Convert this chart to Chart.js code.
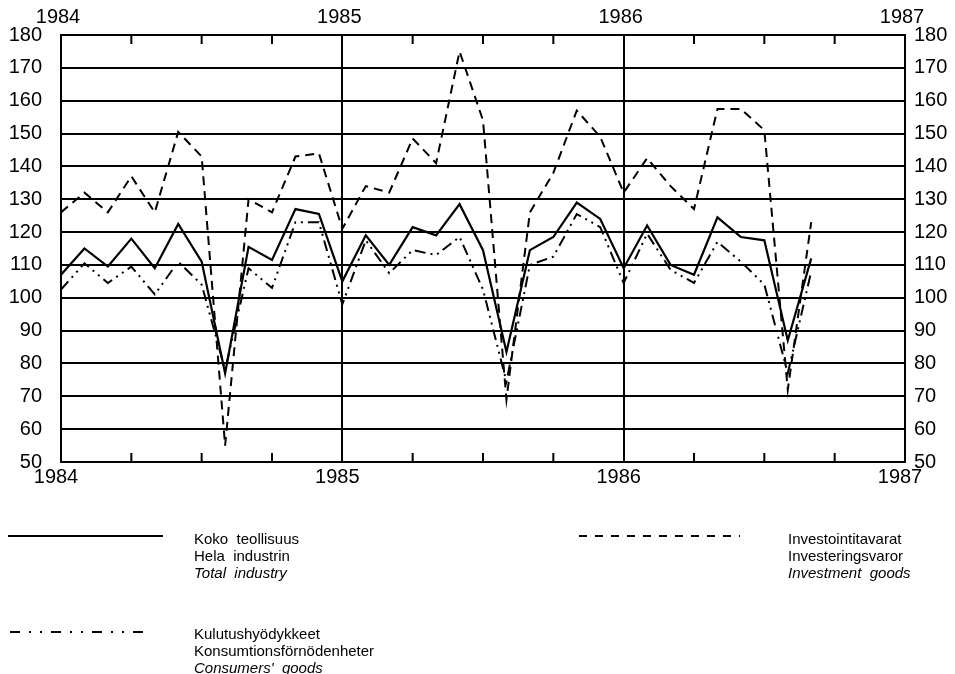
<!DOCTYPE html>
<html>
<head>
<meta charset="utf-8">
<script src="https://cdn.jsdelivr.net/npm/chart.js@4.4.1/dist/chart.umd.min.js"></script>
<style>
  html, body { margin: 0; padding: 0; background: #fff; }
  #wrap { position: relative; width: 955px; height: 674px; overflow: hidden; }
  #c { position: absolute; left: 0; top: 0; }
  .leg { position: absolute; font-family: "Liberation Sans", Arial, sans-serif; font-size: 15px; line-height: 17px; color: #000; }
  .leg i { font-style: italic; }
  svg.sample { position: absolute; }
</style>
</head>
<body>
<div id="wrap">
  <canvas id="c" width="955" height="674"></canvas>
  <svg class="sample" style="left:0;top:530px" width="170" height="12"><line x1="8" y1="6" x2="163" y2="6" stroke="#000" stroke-width="2"/></svg>
  <div class="leg" style="left:194px;top:530px">Koko&nbsp; teollisuus<br>Hela&nbsp; industrin<br><i>Total&nbsp; industry</i></div>
  <svg class="sample" style="left:570px;top:530px" width="180" height="12"><line x1="9" y1="6" x2="170" y2="6" stroke="#000" stroke-width="2" stroke-dasharray="8,8"/></svg>
  <div class="leg" style="left:788px;top:530px">Investointitavarat<br>Investeringsvaror<br><i>Investment&nbsp; goods</i></div>
  <svg class="sample" style="left:0;top:626px" width="170" height="12"><line x1="10" y1="6" x2="150" y2="6" stroke="#000" stroke-width="2" stroke-dasharray="10,9,2,9,2,9"/></svg>
  <div class="leg" style="left:194px;top:625px">Kulutushyödykkeet<br>Konsumtionsförnödenheter<br><i>Consumers'&nbsp; goods</i></div>
</div>
<script>
// Monthly index values, Jan 1984 .. Sep 1986
const yearLabels = ['1984', '1985', '1986', '1987'];
const totalIndustry = [107, 115, 109.5, 118, 109, 122.5, 111, 77, 115.5, 111.5, 127, 125.5,
                       105, 119, 110, 121.5, 119, 128.5, 114.5, 83.5, 114.5, 118.5, 129, 124,
                       109, 122, 110, 107, 124.5, 118.5, 117.5, 87, 112];
const investmentGoods = [126, 132, 126, 137, 126, 150.5, 143, 55, 130, 126, 143, 144,
                         121, 134, 132, 148.5, 141, 175, 154, 69, 126, 138, 157, 149,
                         132, 142.5, 134, 127, 157.5, 157.5, 151, 72, 123];
const consumersGoods = [102.5, 110.5, 104.5, 109.5, 101, 111, 104, 78, 109, 103, 123, 123,
                        98, 117.5, 107.5, 114.5, 113, 118.5, 102.5, 74.5, 110, 112.5, 125.5, 121.5,
                        104.5, 119.5, 108.5, 104.5, 117, 111, 104, 77, 108];

const toPts = arr => arr.map((v, i) => ({ x: i, y: v }));
const FONT = { family: '"Liberation Sans", Arial, sans-serif', size: 20 };

const quarterTicks = {
  id: 'quarterTicks',
  afterDraw(chart) {
    const { ctx, chartArea: a } = chart;
    const xs = chart.scales.x;
    ctx.save();
    ctx.strokeStyle = '#000';
    ctx.lineWidth = 2;
    for (let m = 3; m < 36; m += 3) {
      if (m % 12 === 0) continue;
      const px = xs.getPixelForValue(m);
      ctx.beginPath();
      ctx.moveTo(px, a.top); ctx.lineTo(px, a.top + 9);
      ctx.moveTo(px, a.bottom); ctx.lineTo(px, a.bottom - 9);
      ctx.stroke();
    }
    ctx.restore();
  }
};

const lineBase = { borderColor: '#000', borderWidth: 2, pointRadius: 0, tension: 0, fill: false };

new Chart(document.getElementById('c'), {
  type: 'line',
  data: {
    datasets: [
      Object.assign({ label: 'Total industry', data: toPts(totalIndustry) }, lineBase, { borderWidth: 2.2 }),
      Object.assign({ label: 'Investment goods', data: toPts(investmentGoods), borderDash: [9, 6] }, lineBase),
      Object.assign({ label: "Consumers' goods", data: toPts(consumersGoods), borderDash: [11, 5, 2, 5, 2, 5] }, lineBase)
    ]
  },
  options: {
    responsive: false,
    animation: false,
    devicePixelRatio: 1,
    layout: { padding: { left: 0, right: 0, top: 0, bottom: 182 } },
    plugins: { legend: { display: false }, tooltip: { enabled: false } },
    scales: {
      x: {
        type: 'linear', position: 'bottom', min: 0, max: 36,
        afterFit: s => { s.height = 30; },
        ticks: { stepSize: 12, color: '#000', font: FONT, padding: 3, maxRotation: 0, labelOffset: -5,
                 callback: v => yearLabels[v / 12] },
        grid: { color: '#000', lineWidth: 2, drawTicks: false },
        border: { color: '#000', width: 2 }
      },
      xTop: {
        type: 'linear', position: 'top', min: 0, max: 36,
        afterFit: s => { s.height = 35; },
        ticks: { stepSize: 12, color: '#000', font: FONT, padding: 6, maxRotation: 0, labelOffset: -3,
                 callback: v => yearLabels[v / 12] },
        grid: { display: false, drawTicks: false },
        border: { color: '#000', width: 2 }
      },
      y: {
        position: 'left', min: 50, max: 180,
        afterFit: s => { s.width = 61; },
        ticks: { stepSize: 10, color: '#000', font: FONT, padding: 19 },
        grid: { color: '#000', lineWidth: 2, drawTicks: false },
        border: { color: '#000', width: 2 }
      },
      y2: {
        position: 'right', min: 50, max: 180,
        afterFit: s => { s.width = 50; },
        ticks: { stepSize: 10, color: '#000', font: FONT, padding: 9 },
        grid: { display: false, drawTicks: false },
        border: { color: '#000', width: 2 }
      }
    }
  },
  plugins: [quarterTicks]
});
</script>
</body>
</html>
